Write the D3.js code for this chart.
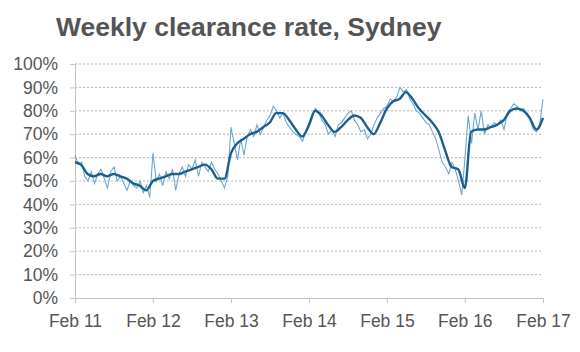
<!DOCTYPE html>
<html>
<head>
<meta charset="utf-8">
<script src="https://cdn.jsdelivr.net/npm/d3@7"></script>
<style>
  body { margin: 0; background: #fff; }
  text { font-family: "Liberation Sans", Arial, sans-serif; }
</style>
</head>
<body>
<svg id="chart" width="580" height="352"></svg>
<script>
/* DATA */
// smoothed clearance rate, one value a month from Feb 2011 to Feb 2017
const smoothValues = [
  58, 57, 53, 52, 53, 52, 53, 52, 51, 49, 48, 46,
  50, 51, 52, 53, 53, 54, 55, 56, 57, 55, 51, 51,
  62, 66, 68, 70, 71, 73, 75, 79, 79, 76, 72, 69,
  74, 80, 78, 74, 71, 73, 76, 78, 77, 73, 70, 75,
  81, 84, 85, 88, 85, 81, 78, 75, 71, 63, 56, 55,
  47, 71, 72, 72, 73, 74, 76, 80, 81, 80, 77, 72,
  77
];

// weekly readings, sampled twice a month
const weeklyValues = [
  61, 57, 58, 52, 50, 54, 49, 53, 55, 51, 47, 54, 56, 50, 52, 49, 46, 50, 48, 47, 50, 45, 48, 43,
  62, 50, 53, 48, 54, 51, 55, 46, 53, 56, 52, 57, 55, 59, 52, 58, 56, 54, 58, 55, 53, 50, 47, 52,
  73, 66, 59, 68, 61, 69, 72, 69, 74, 70, 73, 76, 78, 82, 80, 77, 79, 75, 73, 71, 70, 69, 67, 71,
  73, 77, 81, 79, 76, 74, 70, 72, 69, 74, 75, 77, 79, 80, 76, 74, 71, 72, 68, 70, 74, 77, 79, 81,
  82, 85, 84, 86, 90, 88, 89, 85, 83, 80, 79, 77, 75, 74, 71, 68, 63, 58, 56, 53, 58, 55, 50, 44,
  60, 78, 66, 79, 72, 80, 70, 74, 73, 75, 74, 76, 72, 79, 81, 83, 82, 80, 81, 79, 76, 72, 71, 74, 85
];

const yTicks = [0, 10, 20, 30, 40, 50, 60, 70, 80, 90, 100];
const xTickYears = [2011, 2012, 2013, 2014, 2015, 2016, 2017];
const titleText = "Weekly clearance rate, Sydney";

/* CONSTANTS */
const width = 580, height = 352;
const margin = { top: 64, bottom: 54, left: 75, right: 37 };

const start = new Date(2011, 1, 1);
const end = new Date(2017, 1, 1);

// dates for each series
const smoothData = smoothValues.map((v, i) => ({ date: d3.timeMonth.offset(start, i), value: v }));
const weeklyData = weeklyValues.map((v, i) => ({
  date: new Date(+start + (end - start) * i / (weeklyValues.length - 1)),
  value: v
}));

const svg = d3.select("#chart");

const x = d3.scaleTime()
  .domain([start, end])
  .range([margin.left, width - margin.right]);

const y = d3.scaleLinear()
  .domain([0, 100])
  .range([height - margin.bottom, margin.top]);

// title
svg.append("text")
  .attr("x", 56)
  .attr("y", 36)
  .attr("fill", "#545454")
  .attr("font-size", 26.5)
  .attr("font-weight", "bold")
  .text(titleText);

// dotted gridlines
svg.append("g")
  .selectAll("line")
  .data(yTicks.filter(d => d > 0))
  .join("line")
    .attr("x1", margin.left)
    .attr("x2", width - margin.right)
    .attr("y1", d => y(d))
    .attr("y2", d => y(d))
    .attr("stroke", "#b5b5b5")
    .attr("stroke-width", 1)
    .attr("stroke-dasharray", "2,2");

// y axis
const yAxis = svg.append("g")
  .attr("transform", `translate(${margin.left},0)`)
  .call(d3.axisLeft(y).tickValues(yTicks).tickFormat(d => d + "%").tickSize(5).tickPadding(12));
yAxis.select(".domain").attr("stroke", "#c4c4c4");
yAxis.selectAll(".tick line").attr("stroke", "#c4c4c4");
yAxis.selectAll("text")
  .attr("fill", "#555")
  .attr("font-size", 17.5)
  .attr("font-family", "Liberation Sans, Arial, sans-serif");

// x axis
const xAxis = svg.append("g")
  .attr("transform", `translate(0,${y(0)})`)
  .call(d3.axisBottom(x)
    .tickValues(xTickYears.map(yr => new Date(yr, 1, 1)))
    .tickFormat(d3.timeFormat("Feb %y"))
    .tickSize(5)
    .tickPadding(12));
xAxis.select(".domain").attr("stroke", "#c4c4c4");
xAxis.selectAll(".tick line").attr("stroke", "#c4c4c4");
xAxis.selectAll("text")
  .attr("fill", "#555")
  .attr("font-size", 17.5)
  .attr("font-family", "Liberation Sans, Arial, sans-serif");

// lines
const line = d3.line()
  .x(d => x(d.date))
  .y(d => y(d.value));

svg.append("path")
  .datum(weeklyData)
  .attr("d", line)
  .attr("fill", "none")
  .attr("stroke", "#6aa8d2")
  .attr("stroke-width", 1.1);

svg.append("path")
  .datum(smoothData)
  .attr("d", line.curve(d3.curveMonotoneX))
  .attr("fill", "none")
  .attr("stroke", "#1c5f8d")
  .attr("stroke-width", 2.4)
  .attr("stroke-linejoin", "round");
</script>
</body>
</html>
